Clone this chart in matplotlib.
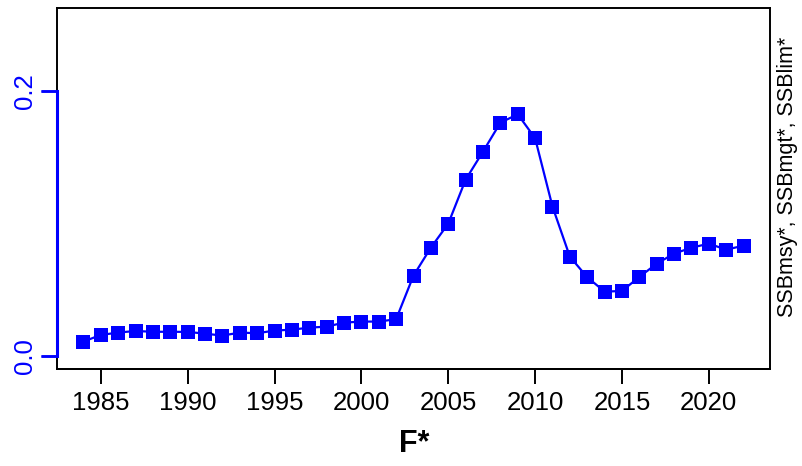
import numpy as np
import matplotlib.pyplot as plt
from matplotlib.markers import TICKLEFT

plt.rcParams['font.family'] = ['Liberation Sans', 'DejaVu Sans']

years = list(range(1984, 2023))
fstar = [0.0106, 0.0156, 0.0174, 0.0186, 0.0180, 0.0180, 0.0179, 0.0166, 0.0151, 0.0174,
         0.0169, 0.0189, 0.0196, 0.0211, 0.0219, 0.0249, 0.0257, 0.0257, 0.0275, 0.0604,
         0.0815, 0.0996, 0.1328, 0.1540, 0.1758, 0.1822, 0.1641, 0.1125, 0.0747, 0.0592,
         0.0483, 0.0488, 0.0594, 0.0694, 0.0770, 0.0815, 0.0845, 0.0800, 0.0830]
xticks = [1985, 1990, 1995, 2000, 2005, 2010, 2015, 2020]
yticks = [0.0, 0.2]
ytick_labels = ["0.0", "0.2"]

fig = plt.figure(figsize=(8.02, 4.66), dpi=100)
pos = [57 / 802, 1 - 369 / 466, 713 / 802, 361 / 466]

# black box (R's box())
box = fig.add_axes(pos)
box.set_xticks([])
box.set_yticks([])
for side in ['top', 'bottom', 'left', 'right']:
    box.spines[side].set_linewidth(1.4)

ax = fig.add_axes(pos)
ax.patch.set_alpha(0)
ax.plot(years, fstar, color='#0000FF', lw=1.6, marker='s', markersize=9.5,
        markeredgewidth=0, clip_on=False)

ax.set_xlim(1982.48, 2023.52)
ax.set_ylim(-0.0101, 0.2624)

ax.set_xticks(xticks)
ax.tick_params(axis='x', length=11, width=1.4, pad=5, labelsize=18.5, colors='black')

# blue y axis like R's axis(2): line only between the end ticks
ax.set_yticks(yticks)
ax.set_yticklabels(ytick_labels, rotation=90, va='center')
ax.tick_params(axis='y', length=11.5, width=1.8, pad=3, labelsize=18.5,
               color='#0000FF', labelcolor='#0000FF')
# same tick marks again as plain markers, in case the axis ones get lost
ax.plot(np.zeros(len(yticks)), yticks, transform=ax.get_yaxis_transform(),
        linestyle='none', marker=TICKLEFT, markersize=11.5, markeredgewidth=1.8,
        color='#0000FF', clip_on=False, zorder=6)
ax.spines['top'].set_visible(False)
ax.spines['right'].set_visible(False)
ax.spines['bottom'].set_linewidth(1.4)
ax.spines['left'].set_color('#0000FF')
ax.spines['left'].set_linewidth(2.2)
ax.spines['left'].set_bounds(yticks[0], yticks[-1])

fig.text(414 / 802, 1 - 444 / 466, "F*", ha='center', va='center',
         fontsize=22, fontweight='bold')
fig.text(787 / 802, 1 - 177 / 466, "SSBmsy*, SSBmgt*, SSBlim*", rotation=90,
         ha='center', va='center', fontsize=15.5)

fig.canvas.draw()
fig.savefig("out.png", dpi=100)
